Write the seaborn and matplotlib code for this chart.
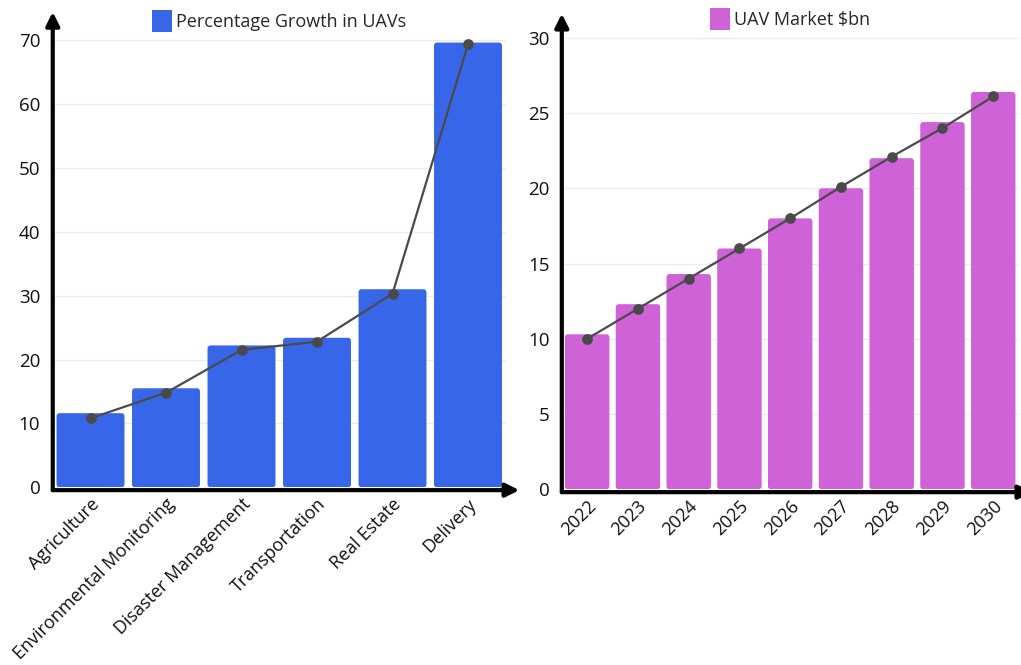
import numpy as np
import pandas as pd
import matplotlib
matplotlib.use("Agg")
import matplotlib.pyplot as plt
import matplotlib.transforms as mtransforms
from matplotlib.patches import Patch, FancyBboxPatch
import seaborn as sns

# --- data -------------------------------------------------------------
sectors = ["Agriculture", "Environmental Monitoring", "Disaster Management",
           "Transportation", "Real Estate", "Delivery"]
growth_bars = [11.6, 15.5, 22.2, 23.4, 31.0, 69.6]
growth_line = [10.8, 14.8, 21.5, 22.8, 30.3, 69.3]

years = ["2022", "2023", "2024", "2025", "2026", "2027", "2028", "2029", "2030"]
market_bars = [10.3, 12.3, 14.3, 16.0, 18.0, 20.0, 22.0, 24.4, 26.4]
market_line = [10.0, 12.0, 14.0, 16.0, 18.0, 20.1, 22.1, 24.0, 26.1]

left_ticks = [0, 10, 20, 30, 40, 50, 60, 70]
right_ticks = [0, 5, 10, 15, 20, 25, 30]

BLUE = "#3767E8"
MAGENTA = "#CE62D6"
LINE = "#4a4a4a"

sns.set_theme(style="white")
plt.rcParams["font.family"] = ["Open Sans", "DejaVu Sans"]

W, H = 1021, 665
fig = plt.figure(figsize=(W / 100, H / 100), dpi=100)


def px_axes(left, right, bottom, top):
    return fig.add_axes([left / W, 1 - bottom / H, (right - left) / W, (bottom - top) / H])


ax1 = px_axes(52.75, 505.75, 487.3, 11.9)
ax2 = px_axes(561.8, 1018.6, 489.3, 13.7)


def round_bars(ax, color, radius_px=3):
    # swap plain rectangles for slightly rounded ones
    fig.canvas.draw()
    bb = ax.get_window_extent()
    x0, x1 = ax.get_xlim()
    y0, y1 = ax.get_ylim()
    xu = (x1 - x0) / bb.width
    yu = (y1 - y0) / bb.height
    rects = list(ax.patches)
    for r in rects:
        x, y = r.get_x(), r.get_y()
        w, h = r.get_width(), r.get_height()
        r.remove()
        fb = FancyBboxPatch((x, y), w, h,
                            boxstyle=f"round,pad=0,rounding_size={radius_px * xu}",
                            mutation_aspect=yu / xu, facecolor=color,
                            edgecolor="none", zorder=2)
        ax.add_patch(fb)


def draw_panel(ax, cats, bars, line, color, ticks, ylim, label, bar_width):
    df = pd.DataFrame({"cat": cats, "bar": bars, "line": line})
    sns.barplot(data=df, x="cat", y="bar", color=color, saturation=1,
                width=bar_width, ax=ax, zorder=2)
    sns.pointplot(data=df, x="cat", y="line", color=LINE, markers="o",
                  linewidth=1.6, markersize=6.5, ax=ax, zorder=4)
    for ln in ax.lines:
        ln.set_clip_on(False)
    ax.set_xlim(-0.5, len(cats) - 0.5)
    ax.set_ylim(*ylim)
    ax.set_yticks(ticks)
    ax.set_yticklabels([str(t) for t in ticks], fontsize=13.5, color="#111111")
    ax.set_xlabel("")
    ax.set_ylabel("")
    ax.yaxis.grid(True, color="#ececec", lw=1)
    ax.set_axisbelow(True)
    for s in ax.spines.values():
        s.set_visible(False)
    ax.tick_params(axis="y", length=0, pad=9)
    ax.tick_params(axis="x", length=0, pad=6)
    ax.set_xticks(range(len(cats)))
    ax.set_xticklabels(cats, rotation=45, ha="right", va="center",
                       rotation_mode="anchor", fontsize=13, color="#111111")
    shift = mtransforms.ScaledTranslation(6 / 100, -6 / 100, fig.dpi_scale_trans)
    for t in ax.get_xticklabels():
        t.set_transform(t.get_transform() + shift)
    round_bars(ax, color)
    # axis arrows
    arrow = dict(arrowstyle="-|>", lw=3, color="black", mutation_scale=20,
                 shrinkA=0, shrinkB=0)
    ax.annotate("", xy=(0, 1.0), xytext=(0, -0.006), xycoords="axes fraction",
                arrowprops=arrow, annotation_clip=False)
    ax.annotate("", xy=(1.03, -0.006), xytext=(0, -0.006), xycoords="axes fraction",
                arrowprops=arrow, annotation_clip=False)
    ax.legend(handles=[Patch(facecolor=color, edgecolor="none", label=label)],
              loc="center", bbox_to_anchor=(0.5, 1.0), frameon=False,
              fontsize=13, handlelength=1.1, handleheight=1.5,
              handletextpad=0.2, borderaxespad=0)


draw_panel(ax1, sectors, growth_bars, growth_line, BLUE, left_ticks, (0, 74.4),
           "Percentage Growth in UAVs", 0.9)
draw_panel(ax2, years, market_bars, market_line, MAGENTA, right_ticks, (0, 31.6),
           "UAV Market $bn", 0.875)

# place legends at the top strip
for ax, yc in ((ax1, 21), (ax2, 19)):
    leg = ax.get_legend()
    bb = ax.get_position()
    leg.set_bbox_to_anchor(((bb.x0 + bb.x1) / 2, 1 - yc / H), transform=fig.transFigure)

fig.savefig("out.png", dpi=100, facecolor="white")
